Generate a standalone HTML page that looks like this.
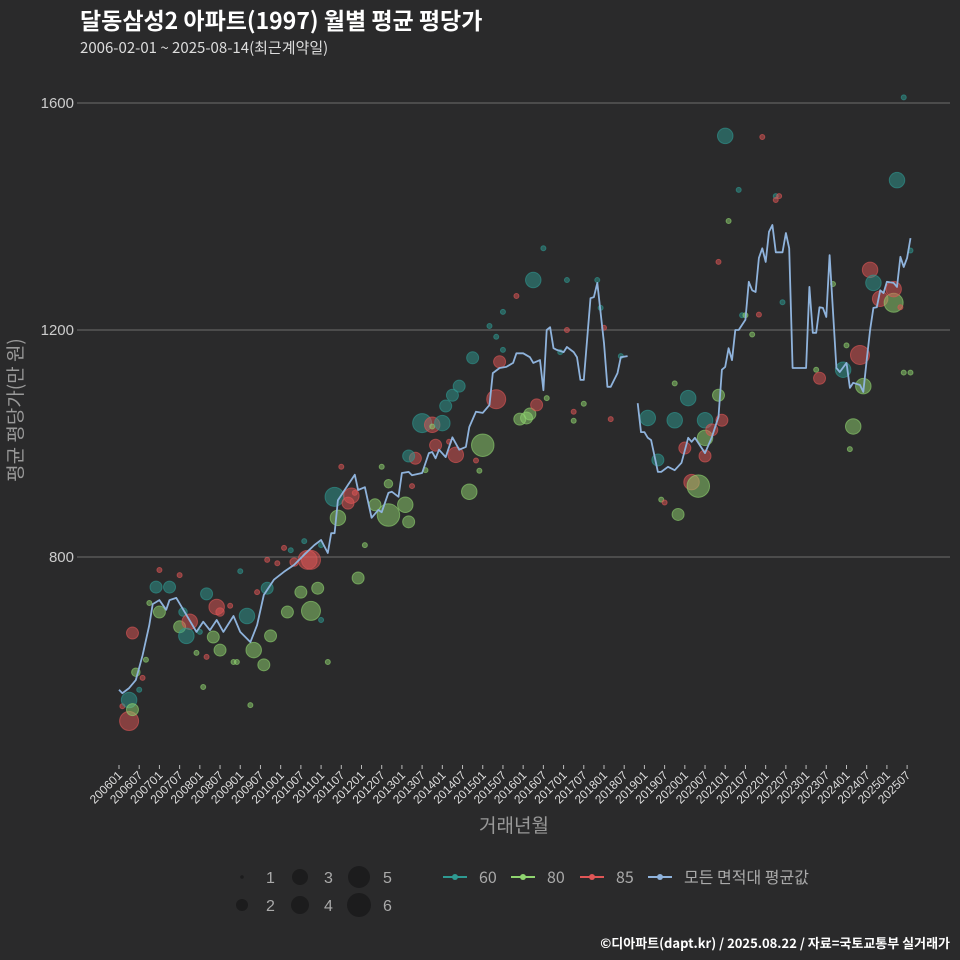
<!DOCTYPE html>
<html><head><meta charset="utf-8">
<style>
html,body{margin:0;padding:0;background:#2a2a2b;}
svg{display:block;font-family:"Liberation Sans","Noto Sans CJK KR",sans-serif;}
.kr{font-family:"Noto Sans CJK KR","Liberation Sans",sans-serif;}
</style></head>
<body>
<svg id="chart" width="960" height="960" viewBox="0 0 960 960" xmlns="http://www.w3.org/2000/svg">
<rect x="0" y="0" width="960" height="960" fill="#2a2a2b"/>
<text class="kr" x="80" y="29" font-size="23" font-weight="bold" fill="#ffffff">달동삼성2 아파트(1997) 월별 평균 평당가</text>
<text class="kr" x="80" y="53" font-size="15" fill="#dddddd">2006-02-01 ~ 2025-08-14(최근계약일)</text>
<g id="grid"></g>
<g id="points"></g>
<g id="line"></g>
<g id="xaxis"></g>
<text class="kr" transform="translate(22,410) rotate(-90)" text-anchor="middle" font-size="19" fill="#999999">평균 평당가(만 원)</text>
<text class="kr" x="514" y="832" text-anchor="middle" font-size="19" fill="#999999">거래년월</text>
<g id="legend"></g>
<text class="kr" x="950" y="948" text-anchor="end" font-size="13" font-weight="bold" fill="#ffffff">©디아파트(dapt.kr) / 2025.08.22 / 자료=국토교통부 실거래가</text>
</svg>
<script>
const yTicks=[800,1200,1600];
const lineMonths=["200601","200602","200604","200606","200608","200610","200611","200701","200703","200704","200706","200709","200712","200802","200804","200806","200808","200811","200901","200904","200906","200908","200911","201002","201005","201008","201011","201101","201103","201104","201105","201106","201107","201109","201111","201112","201202","201204","201206","201207","201209","201210","201212","201301","201303","201304","201307","201309","201310","201311","201312","201402","201404","201406","201408","201409","201411","201501","201503","201504","201506","201508","201510","201511","201601","201603","201604","201606","201607","201608","201609","201610","201611","201701","201702","201704","201705","201706","201707","201709","201710","201711","201801","201802","201803","201805","201806","201808","201809","201811","201812","201901","201902","201903","201905","201906","201908","201910","201912","202002","202003","202004","202007","202009","202011","202012","202101","202102","202103","202104","202105","202107","202108","202109","202110","202111","202112","202201","202202","202203","202204","202206","202207","202208","202209","202301","202302","202303","202304","202305","202306","202307","202308","202310","202311","202401","202402","202403","202405","202406","202407","202408","202409","202410","202411","202412","202501","202503","202504","202505","202506","202507","202508"];
const lineValues=[566,560,569,583,627,680,717,724,707,724,728,698,668,686,671,689,668,696,668,650,680,733,760,774,786,804,821,830,807,842,842,900,909,927,945,918,923,869,883,879,913,915,906,948,950,944,948,983,985,974,989,976,1011,989,994,1029,1056,1054,1068,1124,1133,1135,1142,1159,1159,1152,1142,1147,1094,1200,1205,1168,1165,1161,1170,1161,1152,1112,1112,1256,1258,1283,1177,1100,1100,1124,1152,1154,null,1071,1020,1020,1010,1006,950,950,959,953,966,1010,1003,1010,983,1011,1047,1130,1135,1168,1147,1200,1200,1218,1285,1270,1267,1327,1344,1320,1373,1385,1337,1337,1371,1344,1133,1133,1276,1195,1195,1240,1239,1223,1332,1133,1126,1142,1098,1107,1103,1091,1147,1200,1239,1240,1270,1265,1285,1283,1276,1329,1311,1327,1362];
const ptMonths=["200602","200604","200604","200605","200605","200606","200607","200608","200609","200610","200612","200701","200701","200704","200707","200707","200708","200710","200709","200712","200801","200803","200802","200803","200805","200806","200807","200807","200810","200811","200901","200812","200903","200904","200905","200906","200908","200909","200909","200910","200912","201002","201003","201004","201005","201007","201008","201009","201010","201010","201012","201101","201101","201103","201105","201106","201107","201109","201110","201111","201112","201202","201205","201207","201209","201209","201302","201303","201305","201303","201304","201307","201308","201310","201310","201311","201401","201402","201403","201404","201405","201406","201409","201410","201411","201412","201501","201503","201505","201506","201507","201505","201507","201511","201512","201602","201603","201605","201604","201607","201608","201612","201702","201702","201704","201704","201707","201711","201712","201801","201803","201806","201902","201905","201906","201907","201910","201910","201911","202001","202002","202003","202005","202007","202007","202007","202009","202011","202011","202012","202102","202105","202106","202107","202109","202111","202112","202101","202204","202205","202204","202206","202304","202305","202309","202312","202401","202402","202403","202405","202406","202408","202409","202411","202503","202503","202504","202505","202506","202506","202508","202508","202504","202504"];
const ptValues=[537,511,548,531,666,597,566,587,619,719,747,777,703,747,768,677,703,686,661,631,668,624,571,735,659,712,703,636,714,615,775,615,696,539,636,738,610,745,795,661,789,816,703,812,791,738,828,795,795,705,745,689,821,615,906,869,959,895,908,913,763,821,892,959,929,874,892,862,974,978,925,1036,953,1033,1030,997,1036,1066,1003,1085,980,1101,915,1151,970,952,997,1207,1078,1144,1165,1188,1232,1260,1043,1045,1052,1068,1288,1344,1080,1161,1288,1200,1056,1040,1070,1288,1239,1204,1043,1154,1045,971,901,896,1041,1106,875,992,1080,932,925,978,1041,1010,1024,1085,1320,1041,1392,1447,1226,1226,1192,1227,1540,1542,1436,1436,1429,1249,1130,1115,1281,1130,1173,990,1030,1156,1101,1306,1283,1255,1248,1272,1464,1240,1610,1125,1340,1125,1428];
const ptCounts=[1,5,4,3,3,2,1,1,1,1,3,1,3,3,1,3,2,4,4,1,1,1,1,3,3,4,2,3,1,1,1,1,4,1,4,1,3,3,1,3,1,1,3,1,2,3,1,5,5,5,3,1,1,1,5,4,1,3,4,1,3,1,3,1,2,6,4,3,3,3,1,5,1,4,1,3,4,3,1,3,4,3,4,3,1,1,6,1,5,3,1,1,1,1,3,3,3,3,4,1,1,1,1,1,1,1,1,1,1,1,1,1,4,3,1,1,4,1,3,3,4,4,6,3,4,4,3,3,1,3,1,1,1,1,1,1,1,4,1,1,1,1,1,3,1,4,1,1,4,5,4,4,4,4,5,4,4,1,1,1,1,1];
const ptAreas=["85","85","60","80","85","80","60","85","80","80","60","85","80","60","85","80","60","85","60","80","60","85","80","60","80","85","85","80","85","80","60","80","60","80","80","85","80","60","85","80","85","85","80","60","85","80","60","85","85","80","80","60","60","80","60","80","85","85","85","85","80","80","80","80","80","80","80","80","85","60","85","60","80","85","80","85","60","60","85","60","85","60","80","60","85","80","80","60","85","85","60","60","60","85","80","80","80","85","60","60","80","60","60","85","85","80","80","60","60","85","85","60","60","60","80","85","60","80","80","85","60","85","80","85","60","80","85","80","85","85","80","60","60","80","80","85","85","60","60","85","85","60","80","85","80","60","80","80","80","85","80","85","60","85","80","85","60","85","60","80","60","80","60"];
const xTickLabels=[];for(let y=2006;y<=2025;y++){xTickLabels.push(y+"01");xTickLabels.push(y+"07");}

const NS="http://www.w3.org/2000/svg";
const X0=119, MPX=3.368, Y1200=330, PPU=227/400;
function mIndex(s){return (parseInt(s.slice(0,4))-2006)*12+parseInt(s.slice(4))-1;}
function xScale(s){return X0+mIndex(s)*MPX;}
function yScale(v){return Y1200-(v-1200)*PPU;}
function rScale(n){return 2.5+(n-1)*1.75;}
const colors={"60":"#2e9a92","80":"#8fd46f","85":"#e05656","all":"#8fb3dc"};
function mk(tag,attrs,parent){const e=document.createElementNS(NS,tag);for(const k in attrs)e.setAttribute(k,attrs[k]);parent.appendChild(e);return e;}

const grid=document.getElementById('grid');
yTicks.forEach(t=>{
  const y=yScale(t);
  const l=mk('line',{x1:77,x2:950,y1:y,y2:y,stroke:'#6e6e6e','stroke-width':1},grid);
  
  
  const tx=mk('text',{x:74,y:y+5,'text-anchor':'end','font-size':15,fill:'#cccccc'},grid);
  tx.textContent=t;
  
  
});

const pts=document.getElementById('points');
ptMonths.forEach((m,i)=>{
  const c=mk('circle',{cx:xScale(m),cy:yScale(ptValues[i]),r:rScale(ptCounts[i]),fill:colors[ptAreas[i]],'fill-opacity':0.5,stroke:colors[ptAreas[i]],'stroke-opacity':0.6,'stroke-width':1},pts);
  
  
});

const lg=document.getElementById('line');
let d='',pen=false;
lineMonths.forEach((m,i)=>{
  const v=lineValues[i];
  if(v===null){pen=false;return;}
  d+=(pen?'L':'M')+xScale(m).toFixed(1)+','+yScale(v).toFixed(1);pen=true;
});
const path=mk('path',{d:d,fill:'none',stroke:colors.all,'stroke-width':1.8,'stroke-linejoin':'round'},lg);



const xa=document.getElementById('xaxis');
xTickLabels.forEach(s=>{
  const x=xScale(s);
  const tk=mk('line',{x1:x,x2:x,y1:765,y2:769,stroke:'#bbbbbb','stroke-width':1},xa);
  
  
  const t=mk('text',{transform:'translate('+(x+4)+',776) rotate(-45)','text-anchor':'end','font-size':12,fill:'#dddddd'},xa);
  t.textContent=s;
  
  
});

const leg=document.getElementById('legend');
const sizeLeg=[[1,242,877,1.8],[2,242,905,6],[3,300,877,8],[4,300,905,9],[5,359,877,11],[6,359,905,12]];
sizeLeg.forEach(s=>{
  const c=mk('circle',{cx:s[1],cy:s[2],r:s[3],fill:'#1c1c1d'},leg);
  
  
  const t=mk('text',{x:s[1]+24,y:s[2]+6,'font-size':16,fill:'#aaaaaa'},leg);
  t.textContent=s[0];
  
  
});
const colLeg=[["60",455,"60"],["80",523,"80"],["85",592,"85"],["all",660,"모든 면적대 평균값"]];
colLeg.forEach(s=>{
  const g=mk('g',{},leg);
  
  
  mk('line',{x1:s[1]-12,x2:s[1]+12,y1:877,y2:877,stroke:colors[s[0]],'stroke-width':2},g);
  mk('circle',{cx:s[1],cy:877,r:3,fill:colors[s[0]]},g);
  const t=mk('text',{x:s[1]+24,y:883,'font-size':16,fill:'#aaaaaa',class:'kr'},g);
  t.textContent=s[2];
});
</script>
</body></html>
